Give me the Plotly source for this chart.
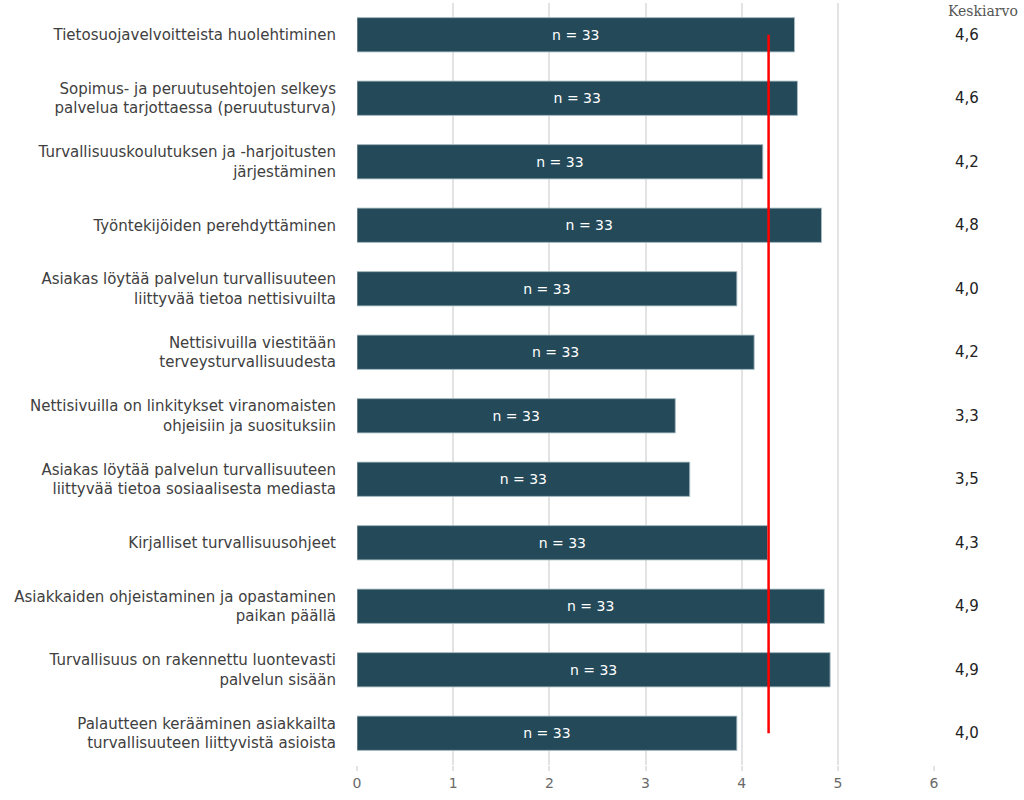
import plotly.graph_objects as go

categories = [
    "Tietosuojavelvoitteista huolehtiminen",
    "Sopimus- ja peruutusehtojen selkeys<br>palvelua tarjottaessa (peruutusturva)",
    "Turvallisuuskoulutuksen ja -harjoitusten<br>järjestäminen",
    "Työntekijöiden perehdyttäminen",
    "Asiakas löytää palvelun turvallisuuteen<br>liittyvää tietoa nettisivuilta",
    "Nettisivuilla viestitään<br>terveysturvallisuudesta",
    "Nettisivuilla on linkitykset viranomaisten<br>ohjeisiin ja suosituksiin",
    "Asiakas löytää palvelun turvallisuuteen<br>liittyvää tietoa sosiaalisesta mediasta",
    "Kirjalliset turvallisuusohjeet",
    "Asiakkaiden ohjeistaminen ja opastaminen<br>paikan päällä",
    "Turvallisuus on rakennettu luontevasti<br>palvelun sisään",
    "Palautteen kerääminen asiakkailta<br>turvallisuuteen liittyvistä asioista",
]
bar_values = [4.55, 4.58, 4.22, 4.83, 3.95, 4.13, 3.31, 3.46, 4.27, 4.86, 4.92, 3.95]
mean_labels = ["4,6", "4,6", "4,2", "4,8", "4,0", "4,2", "3,3", "3,5", "4,3", "4,9", "4,9", "4,0"]
n_labels = ["n = 33"] * 12
overall_mean = 4.28
column_title = "Keskiarvo"
x_ticks = [0, 1, 2, 3, 4, 5, 6]

fig = go.Figure()
fig.add_trace(go.Bar(
    orientation="h",
    x=bar_values,
    y=categories,
    width=0.54,
    marker=dict(color="#244A5A", line=dict(color="rgba(170,188,195,0.9)", width=1)),
    text=n_labels,
    textposition="inside",
    insidetextanchor="middle",
    textangle=0,
    textfont=dict(family="DejaVu Sans", size=14, color="white"),
    hoverinfo="x+y",
))
fig.add_trace(go.Scatter(
    x=[overall_mean, overall_mean],
    y=[categories[0], categories[-1]],
    mode="lines",
    line=dict(color="#FF0000", width=2.5),
    hoverinfo="skip",
))

annotations = [dict(
    text=column_title, xref="paper", yref="paper", x=1.085, y=0.9895,
    xanchor="center", yanchor="middle", showarrow=False,
    font=dict(family="DejaVu Serif", size=14, color="#555555"),
)]
for cat, lab in zip(categories, mean_labels):
    annotations.append(dict(
        text=lab, xref="paper", yref="y", x=1.058, y=cat,
        xanchor="center", yanchor="middle", showarrow=False,
        font=dict(family="DejaVu Sans", size=15, color="#222222"),
    ))

fig.update_layout(
    width=1024, height=800,
    margin=dict(l=357, r=90, t=3, b=35),
    paper_bgcolor="white", plot_bgcolor="white",
    showlegend=False,
    annotations=annotations,
    xaxis=dict(
        range=[0, 6], tickvals=x_ticks, showgrid=True, gridcolor="#E3E3E3", gridwidth=2,
        zeroline=False, showline=False, ticks="outside", ticklen=5, tickcolor="#E3E3E3", tickwidth=2,
        tickfont=dict(family="DejaVu Sans", size=14, color="#6A6A6A"),
    ),
    yaxis=dict(
        range=[len(categories) - 0.5, -0.5], showgrid=False, zeroline=False, showline=False,
        ticks="", ticklabelstandoff=20,
        tickfont=dict(family="DejaVu Sans", size=15, color="#404040"),
    ),
)

fig.write_html("out.html")
